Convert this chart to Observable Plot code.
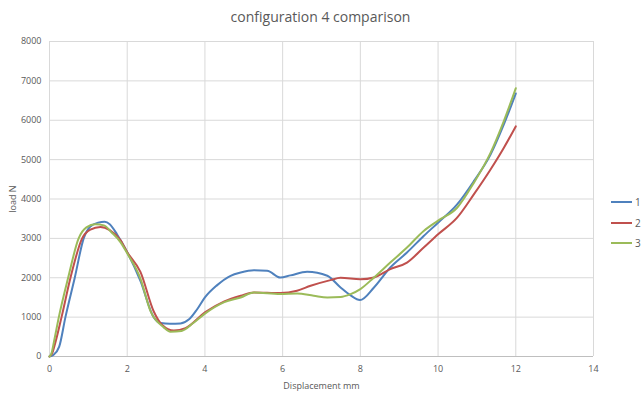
<!DOCTYPE html>
<html>
<head>
<meta charset="utf-8">
<script src="https://cdn.jsdelivr.net/npm/d3@7"></script>
<script src="https://cdn.jsdelivr.net/npm/@observablehq/plot@0.6"></script>
<style>
  html, body { margin: 0; padding: 0; background: #fff; }
  body { width: 641px; height: 398px; position: relative; overflow: hidden; font-family: "Open Sans", "Liberation Sans", sans-serif; }
  #title { height: 34px; line-height: 34px; text-align: center; font-size: 14px; color: #595959; }
  #legend { position: absolute; left: 611px; top: 192px; font-size: 10px; color: #595959; }
  #legend div { height: 20.5px; display: flex; align-items: center; }
  #legend svg { margin-right: 3px; }
</style>
</head>
<body>
<div id="title">configuration 4 comparison</div>
<div id="chart"></div>
<div id="legend"></div>
<script>
const seriesNames = ["1", "2", "3"];
const seriesColors = ["#4F81BD", "#C0504D", "#9BBB59"];

const s1x = [0, 0.1, 0.25, 0.41, 0.65, 0.88, 1.05, 1.25, 1.42, 1.55, 1.74, 2.0, 2.34, 2.68, 2.86, 3.1, 3.37, 3.6, 3.8, 4.0, 4.3, 4.66, 4.92, 5.26, 5.6, 5.94, 6.2, 6.63, 7.15, 7.49, 7.75, 7.99, 8.35, 8.77, 9.2, 9.63, 10.0, 10.49, 10.92, 11.35, 11.69, 12.0];
const s1y = [0, 40, 250, 1000, 2000, 3000, 3300, 3400, 3420, 3360, 3100, 2650, 1920, 1000, 850, 830, 840, 950, 1200, 1500, 1800, 2050, 2133, 2190, 2180, 2006, 2060, 2150, 2050, 1753, 1550, 1434, 1753, 2260, 2640, 3061, 3398, 3863, 4453, 5128, 5887, 6680];

const s2x = [0, 0.06, 0.15, 0.31, 0.54, 0.84, 1.05, 1.31, 1.55, 1.83, 2.0, 2.34, 2.68, 2.9, 3.2, 3.5, 4.0, 4.5, 4.92, 5.26, 5.94, 6.37, 6.72, 7.23, 7.49, 8.0, 8.35, 8.77, 9.2, 9.63, 10.0, 10.49, 10.92, 11.35, 11.69, 12.0];
const s2y = [0, 60, 350, 1000, 2000, 3000, 3220, 3290, 3210, 2950, 2650, 2150, 1150, 800, 660, 720, 1120, 1400, 1543, 1627, 1611, 1670, 1796, 1940, 2000, 1960, 2006, 2218, 2386, 2766, 3103, 3525, 4116, 4749, 5295, 5844];

const s3x = [0, 0.05, 0.12, 0.24, 0.48, 0.75, 0.95, 1.18, 1.4, 1.6, 1.83, 2.0, 2.34, 2.6, 2.94, 3.11, 3.4, 3.7, 4.0, 4.5, 4.92, 5.26, 5.94, 6.37, 6.8, 7.15, 7.49, 7.75, 8.0, 8.35, 8.77, 9.2, 9.63, 10.0, 10.49, 10.92, 11.35, 11.69, 12.0];
const s3y = [0, 80, 400, 1000, 2000, 3000, 3280, 3357, 3330, 3150, 2900, 2620, 1980, 1150, 740, 630, 650, 850, 1088, 1380, 1500, 1627, 1585, 1600, 1543, 1500, 1510, 1585, 1712, 2006, 2386, 2766, 3188, 3450, 3777, 4410, 5170, 5971, 6813];

const xTicks = [0, 2, 4, 6, 8, 10, 12, 14];
const yTicks = [0, 1000, 2000, 3000, 4000, 5000, 6000, 7000, 8000];

const allX = [s1x, s2x, s3x];
const allY = [s1y, s2y, s3y];
const data = [];
seriesNames.forEach((name, i) => {
  allX[i].forEach((x, j) => data.push({series: name, x, y: allY[i][j]}));
});

const chart = Plot.plot({
  width: 641,
  height: 364,
  marginTop: 7,
  marginLeft: 49,
  marginRight: 48,
  marginBottom: 42,
  style: {fontFamily: "'Open Sans', 'Liberation Sans', sans-serif", color: "#595959", background: "#fff"},
  x: {domain: [0, 14]},
  y: {domain: [0, 8000]},
  color: {domain: seriesNames, range: seriesColors},
  marks: [
    Plot.gridX(xTicks, {stroke: "#d9d9d9", strokeOpacity: 1}),
    Plot.gridY(yTicks, {stroke: "#d9d9d9", strokeOpacity: 1}),
    Plot.ruleY([0], {stroke: "#bfbfbf"}),
    Plot.axisX(xTicks, {tickSize: 0, tickPadding: 9, fontSize: 9, tickFormat: d => String(d), label: "Displacement mm", labelAnchor: "center", labelArrow: false, labelOffset: 32}),
    Plot.axisY(yTicks, {tickSize: 0, tickPadding: 8, fontSize: 9, tickFormat: d => String(d), label: "load N", labelAnchor: "center", labelArrow: false, labelOffset: 40}),
    Plot.line(data, {x: "x", y: "y", z: "series", stroke: "series", strokeWidth: 2, curve: "monotone-x"})
  ]
});
document.getElementById("chart").appendChild(chart);

const legend = document.getElementById("legend");
seriesNames.forEach((name, i) => {
  const row = document.createElement("div");
  row.innerHTML = `<svg width="21" height="4"><line x1="0" y1="2" x2="21" y2="2" stroke="${seriesColors[i]}" stroke-width="2"/></svg><span>${name}</span>`;
  legend.appendChild(row);
});
</script>
</body>
</html>
